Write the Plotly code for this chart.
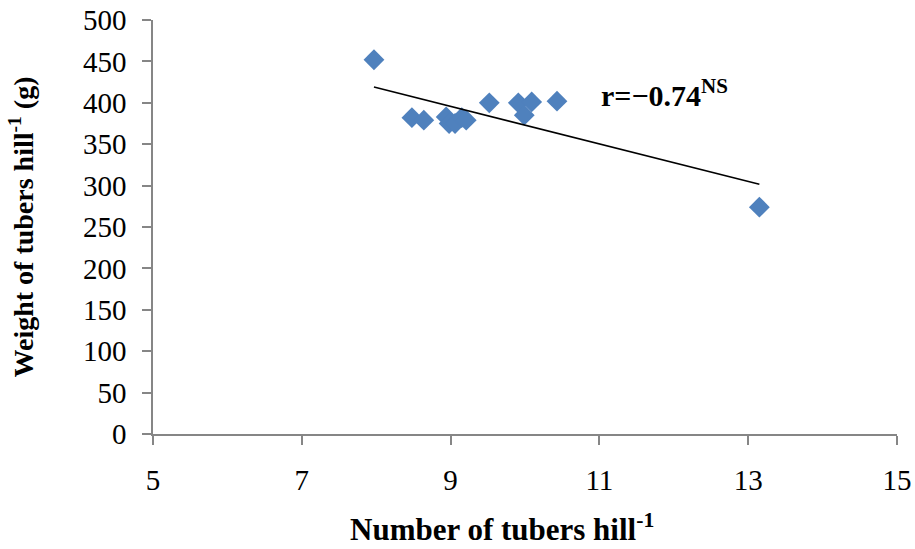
import numpy as np
import plotly.graph_objects as go

# Data
tubers_number = [7.97, 8.48, 8.64, 8.94, 8.98, 9.06, 9.15, 9.21, 9.52, 9.91, 9.99, 10.09, 10.43, 13.15]
tubers_weight = [452, 382, 379, 383, 375, 375, 382, 379, 400, 400, 385, 401, 402, 274]
x_ticks = [5, 7, 9, 11, 13, 15]
y_ticks = [0, 50, 100, 150, 200, 250, 300, 350, 400, 450, 500]
r_label = "r=\u22120.74<sup>NS</sup>"
x_title = "Number of tubers hill<sup>-1</sup>"
y_title = "Weight of tubers hill<sup>-1</sup> (g)"

# Linear trend line from the data
slope, intercept = np.polyfit(tubers_number, tubers_weight, 1)
trend_x = [min(tubers_number), max(tubers_number)]
trend_y = [slope * v + intercept for v in trend_x]

FONT = "Liberation Serif"
AXIS_COLOR = "#868686"

fig = go.Figure()
fig.add_trace(go.Scatter(
    x=tubers_number, y=tubers_weight, mode="markers",
    marker=dict(symbol="diamond", size=16, color="#4F81BD"),
    showlegend=False,
))
fig.add_trace(go.Scatter(
    x=trend_x, y=trend_y, mode="lines",
    line=dict(color="black", width=1.5),
    showlegend=False,
))

fig.add_annotation(
    x=11.0, y=412, xref="x", yref="y", xanchor="left", yanchor="middle",
    text="<b>" + r_label + "</b>", showarrow=False,
    font=dict(family=FONT, size=30, color="black"),
)
# x-axis title (placed as in the reference, slightly left of the plot centre)
fig.add_annotation(
    x=0.469, y=-0.225, xref="paper", yref="paper", xanchor="center", yanchor="middle",
    text="<b>" + x_title + "</b>", showarrow=False,
    font=dict(family=FONT, size=31, color="black"),
)

fig.update_layout(
    width=915, height=549,
    margin=dict(l=153, r=18, t=20, b=115),
    paper_bgcolor="white", plot_bgcolor="white",
    font=dict(family=FONT, size=29, color="black"),
)
fig.update_xaxes(
    range=[5, 15], tickvals=x_ticks, ticktext=[str(v) for v in x_ticks],
    showgrid=False, zeroline=False, showline=True, linecolor=AXIS_COLOR, linewidth=1.5,
    ticks="outside", ticklen=9, tickcolor=AXIS_COLOR, tickwidth=1.5,
    ticklabelstandoff=10, automargin=False,
    tickfont=dict(family=FONT, size=29, color="black"),
)
fig.update_yaxes(
    range=[0, 500], tickvals=y_ticks, ticktext=[str(v) for v in y_ticks],
    showgrid=False, zeroline=False, showline=True, linecolor=AXIS_COLOR, linewidth=1.5,
    ticks="outside", ticklen=9, tickcolor=AXIS_COLOR, tickwidth=1.5,
    ticklabelstandoff=10, automargin=False,
    tickfont=dict(family=FONT, size=29, color="black"),
    title=dict(text="<b>" + y_title + "</b>",
               font=dict(family=FONT, size=28, color="black"), standoff=41),
)

fig.write_html("out.html")
